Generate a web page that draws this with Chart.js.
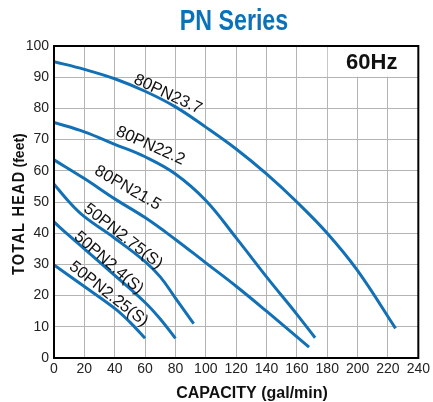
<!DOCTYPE html>
<html>
<head>
<meta charset="utf-8">
<script src="https://cdn.jsdelivr.net/npm/chart.js@4/dist/chart.umd.min.js"></script>
<style>
html,body{margin:0;padding:0;background:#fff;}
#wrap{width:433px;height:402px;position:relative;}
</style>
</head>
<body>
<div id="wrap"><canvas id="c" width="433" height="402"></canvas></div>
<script>
// ---- data ----
const seriesNames = ["80PN23.7","80PN22.2","80PN21.5","50PN2.75(S)","50PN2.4(S)","50PN2.25(S)"];
const flow237 = [0,20,40,60,80,100,120,140,160,180,200,225];
const head237 = [95,92.5,89.5,85.5,80.5,74,67,59,50,40,28,9.5];
const flow222 = [0,20,40,60,80,100,120,140,160,172];
const head222 = [75.5,72.5,68.5,64.5,59,50.5,38.5,26,14,6.5];
const flow215 = [0,20,40,60,80,100,120,140,168];
const head215 = [63.5,57.5,51,45,38,30.5,23,15,3.5];
const flow275 = [0,10,20,40,60,70,80,92];
const head275 = [55.7,50,45.3,38.4,30.9,26,19.2,11];
const flow24 = [0,10,20,40,60,70,80];
const head24 = [43.6,39.2,35,26.5,17.8,12.5,6.3];
const flow225 = [0,20,40,50,60];
const head225 = [29.8,22.9,15.9,11.5,6.3];
const xTicks = [0,20,40,60,80,100,120,140,160,180,200,220,240];
const yTicks = [0,10,20,30,40,50,60,70,80,90,100];

// label anchor positions (data coords) and angles
const labelPos = [
  {x:75, y:84.5, a:25},
  {x:63.5, y:68, a:24},
  {x:48.5, y:54.5, a:30},
  {x:45.5, y:39, a:38},
  {x:36, y:30.5, a:41},
  {x:36, y:20.5, a:38}
];

const flows = [flow237,flow222,flow215,flow275,flow24,flow225];
const heads = [head237,head222,head215,head275,head24,head225];
const BLUE = '#1271b6';

const datasets = seriesNames.map((n,i)=>({
  label:n,
  data: flows[i].map((f,j)=>({x:f,y:heads[i][j]})),
  borderColor: BLUE,
  borderWidth: 3,
  pointRadius: 0,
  fill:false,
  tension:0.4,
  borderCapStyle:'butt'
}));

const decor = {
  id:'decor',
  beforeDatasetsDraw(chart){
    const ctx = chart.ctx, xs = chart.scales.x, ys = chart.scales.y;
    const l = xs.getPixelForValue(180), r = xs.getPixelForValue(240);
    const t = ys.getPixelForValue(100), b = ys.getPixelForValue(90);
    ctx.save();
    ctx.fillStyle = '#fff';
    ctx.fillRect(l+0.5, t, r-l-0.5, b-t-0.5);
    ctx.fillStyle = '#111';
    ctx.font = 'bold 22px "Liberation Sans", Arial, sans-serif';
    ctx.textAlign = 'center';
    ctx.textBaseline = 'alphabetic';
    ctx.fillText('60Hz', (l+r)/2-1, t+23);
    ctx.restore();
  },
  afterDatasetsDraw(chart){
    const ctx = chart.ctx, xs = chart.scales.x, ys = chart.scales.y, ca = chart.chartArea;
    ctx.save();
    ctx.fillStyle = '#111';
    ctx.font = '16.5px "Liberation Sans", Arial, sans-serif';
    ctx.textAlign = 'center';
    ctx.textBaseline = 'middle';
    seriesNames.forEach((n,i)=>{
      const p = labelPos[i];
      ctx.save();
      ctx.translate(xs.getPixelForValue(p.x), ys.getPixelForValue(p.y));
      ctx.rotate(p.a*Math.PI/180);
      ctx.fillText(n,0,0);
      ctx.restore();
    });
    ctx.strokeStyle = '#000';
    ctx.lineWidth = 2;
    ctx.strokeRect(ca.left, ca.top, ca.right-ca.left, ca.bottom-ca.top);
    ctx.restore();
  },
  afterDraw(chart){
    const ctx = chart.ctx;
    ctx.save();
    ctx.fillStyle = '#0b72ba';
    ctx.font = 'bold 29px "Liberation Sans", Arial, sans-serif';
    ctx.textAlign = 'center';
    ctx.textBaseline = 'alphabetic';
    ctx.translate(234, 29.5);
    ctx.scale(0.8,1);
    ctx.fillText('PN Series',0,0);
    ctx.restore();
    ctx.save();
    ctx.fillStyle = '#111';
    ctx.font = 'bold 16px "Liberation Sans", Arial, sans-serif';
    ctx.textAlign = 'center';
    ctx.fillText('CAPACITY (gal/min)', 252, 398);
    ctx.restore();
    ctx.save();
    ctx.fillStyle = '#111';
    ctx.translate(24, 275);
    ctx.rotate(-Math.PI/2);
    ctx.textAlign = 'left';
    ctx.textBaseline = 'alphabetic';
    ctx.font = 'bold 17px "Liberation Sans", Arial, sans-serif';
    ctx.letterSpacing = '1.5px';
    ctx.save();
    ctx.scale(0.85,1);
    ctx.fillText('TOTAL HEAD',0,0);
    const w = ctx.measureText('TOTAL HEAD').width*0.85;
    ctx.restore();
    ctx.letterSpacing = '0px';
    ctx.font = 'bold 14px "Liberation Sans", Arial, sans-serif';
    ctx.fillText('(feet)', w+3, 0);
    ctx.restore();
  }
};

new Chart(document.getElementById('c'), {
  type:'line',
  data:{datasets},
  options:{
    responsive:false,
    animation:false,
    devicePixelRatio:1,
    layout:{padding:{left:0,right:14,top:46,bottom:0}},
    plugins:{legend:{display:false},tooltip:{enabled:false},title:{display:false}},
    scales:{
      x:{
        type:'linear', min:0, max:240,
        afterBuildTicks(s){ s.ticks = xTicks.map(v=>({value:v})); },
        afterFit(s){ s.height = 44; },
        grid:{color:'#b4b4b4', lineWidth:1, drawTicks:false},
        border:{display:false},
        ticks:{color:'#222', font:{family:'"Liberation Sans", Arial, sans-serif', size:14}, padding:3, maxRotation:0, autoSkip:false}
      },
      y:{
        type:'linear', min:0, max:100,
        afterBuildTicks(s){ s.ticks = yTicks.map(v=>({value:v})); },
        afterFit(s){ s.width = 54; },
        grid:{color:'#b4b4b4', lineWidth:1, drawTicks:false},
        border:{display:false},
        ticks:{color:'#222', font:{family:'"Liberation Sans", Arial, sans-serif', size:14}, padding:5, autoSkip:false}
      }
    }
  },
  plugins:[decor]
});
</script>
</body>
</html>
